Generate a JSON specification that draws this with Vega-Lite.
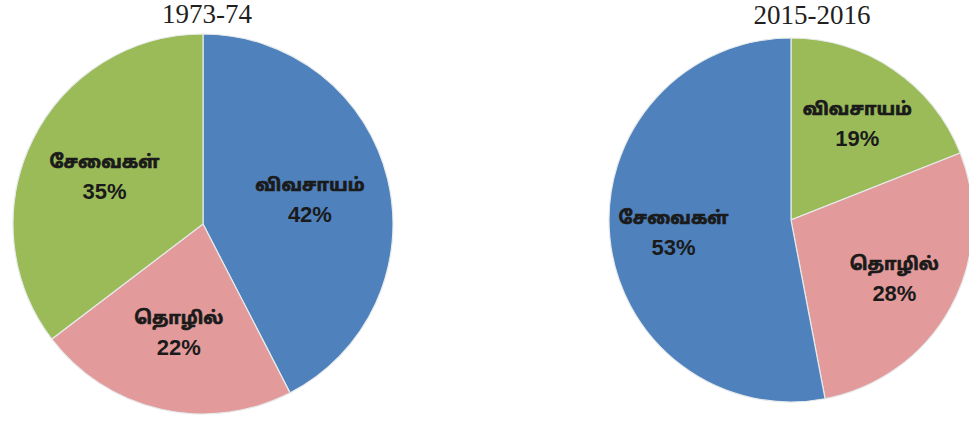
{
  "$schema": "https://vega.github.io/schema/vega-lite/v6.json",
  "background": "white",
  "padding": {"top": 0, "left": 0, "right": 0, "bottom": 0},
  "autosize": {"type": "pad"},
  "datasets": {
    "y1973": [
      {"sector": "விவசாயம்", "share": 42, "label": "42%", "k": 1},
      {"sector": "தொழில்", "share": 22, "label": "22%", "k": 2},
      {"sector": "சேவைகள்", "share": 35, "label": "35%", "k": 3}
    ],
    "y2015": [
      {"sector": "விவசாயம்", "share": 19, "label": "19%", "k": 1},
      {"sector": "தொழில்", "share": 28, "label": "28%", "k": 2},
      {"sector": "சேவைகள்", "share": 53, "label": "53%", "k": 3}
    ]
  },
  "config": {
    "view": {"stroke": null},
    "title": {"font": "Liberation Serif", "fontSize": 27, "fontWeight": "normal", "color": "#231f20", "offset": 3}
  },
  "spacing": 200,
  "resolve": {"scale": {"color": "independent", "theta": "independent"}},
  "hconcat": [
    {
      "width": 406,
      "height": 382,
      "title": {"text": "1973-74", "dx": 4},
      "data": {"name": "y1973"},
      "encoding": {
        "theta": {"field": "share", "type": "quantitative", "stack": true},
        "order": {"field": "k", "type": "quantitative"}
      },
      "layer": [
        {
          "mark": {"type": "arc", "outerRadius": 190, "stroke": "#e6eaea", "strokeWidth": 1.2},
          "encoding": {
            "color": {"field": "sector", "type": "nominal", "legend": null,
              "scale": {"domain": ["விவசாயம்", "தொழில்", "சேவைகள்"], "range": ["#4f81bd", "#e29a9b", "#9bbb59"]}}
          }
        },
        {
          "mark": {"type": "text", "radius": 110, "dy": -12, "font": "Noto Sans Tamil, Liberation Sans", "fontWeight": "bold", "fontSize": 18, "color": "#1a1a1a", "stroke": "#1a1a1a", "strokeWidth": 0.7},
          "encoding": {"text": {"field": "sector"}}
        },
        {
          "mark": {"type": "text", "radius": 110, "dy": 17, "font": "Liberation Sans", "fontWeight": "bold", "fontSize": 22, "color": "#1a1a1a"},
          "encoding": {"text": {"field": "label"}}
        }
      ]
    },
    {
      "width": 364,
      "height": 374,
      "title": {"text": "2015-2016", "dx": 21},
      "data": {"name": "y2015"},
      "encoding": {
        "theta": {"field": "share", "type": "quantitative", "stack": true},
        "order": {"field": "k", "type": "quantitative"}
      },
      "layer": [
        {
          "mark": {"type": "arc", "outerRadius": 182, "stroke": "#e6eaea", "strokeWidth": 1.2},
          "encoding": {
            "color": {"field": "sector", "type": "nominal", "legend": null,
              "scale": {"domain": ["விவசாயம்", "தொழில்", "சேவைகள்"], "range": ["#9bbb59", "#e29a9b", "#4f81bd"]}}
          }
        },
        {
          "mark": {"type": "text", "radius": 118, "dy": -12, "font": "Noto Sans Tamil, Liberation Sans", "fontWeight": "bold", "fontSize": 18, "color": "#1a1a1a", "stroke": "#1a1a1a", "strokeWidth": 0.7},
          "encoding": {"text": {"field": "sector"}}
        },
        {
          "mark": {"type": "text", "radius": 118, "dy": 17, "font": "Liberation Sans", "fontWeight": "bold", "fontSize": 22, "color": "#1a1a1a"},
          "encoding": {"text": {"field": "label"}}
        }
      ]
    }
  ]
}
